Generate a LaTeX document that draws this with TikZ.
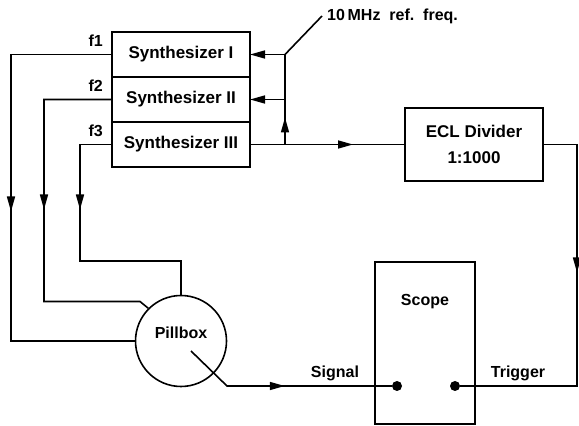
\documentclass[tikz,border=0pt]{standalone}
\usepackage{fontspec}
\setmainfont{Liberation Sans}
\usetikzlibrary{arrows.meta,positioning,decorations.markings}

\begin{document}
\begin{tikzpicture}[
  x=1pt, y=1pt,
  >={Triangle[length=15pt, width=8pt]},
  wire/.style={line width=1.6pt, line join=miter},
  box/.style={draw, line width=1.6pt, outer sep=0pt, minimum width=138pt, minimum height=45pt, align=center, font=\bfseries\fontsize{17}{26}\selectfont},
  lab/.style={inner sep=0pt, font=\bfseries\fontsize{16}{19}\selectfont},
  dot/.style={circle, fill, inner sep=0pt, minimum size=10pt},
  midarr/.style={postaction={decorate, decoration={markings, mark=at position #1 with {\arrow{>}}}}}
]
\useasboundingbox (0,0) rectangle (579,426);
\node[box] (syn1) at (181,371.5) {Synthesizer I};
\node[box, below=0pt of syn1] (syn2) {Synthesizer II};
\node[box, below=0pt of syn2] (syn3) {Synthesizer III};
\node[box, right=155pt of syn3, minimum height=73pt] (ecl) {ECL Divider\\1:1000};
\node[lab, above left=8pt and 9pt of syn1.west] (f1) {f1};
\node[lab, above left=8pt and 9pt of syn2.west] (f2) {f2};
\node[lab, above left=8pt and 9pt of syn3.west] (f3) {f3};
\coordinate[right=35pt of syn1.east] (ref);
\node[lab, anchor=west, inner sep=5pt] (reflab) at (322,410) {10\,MHz~~ref.~~freq.};
\node[circle, draw, line width=1.6pt, minimum size=91pt] (pill) at (181,85) {};
\node[lab, above=2pt of pill.center] (pilllab) {Pillbox};
\coordinate[below right=10pt and 10pt of pill.center] (sigsrc);
\node[draw, line width=1.6pt, minimum width=100pt, minimum height=162pt] (scope) at (425,83) {};
\node[lab, below=33pt of scope.north] (scopelab) {Scope};
\node[dot] (dot1) at (397,40) {};
\node[dot] (dot2) at (455,40) {};
\node[lab] (siglab) at (335,53) {Signal};
\node[lab] (triglab) at (518,53) {Trigger};
\draw[wire] (ref) -- (reflab.west);
\draw[wire, ->] (ref) -- (syn1.east);
\draw[wire, ->] (ref |- syn2.east) -- (syn2.east);
\draw[wire, midarr=27pt] (syn3.east -| ref) -- (ref);
\draw[wire, midarr=103pt] (syn3.east) -- (ecl.west);
\draw[wire, midarr=162pt] (ecl.east) -- ++(34,0) |- (dot2);
\draw[wire, midarr=258pt] (syn1.west) -- ++(-101,0) |- (pill.west);
\draw[wire, midarr=178pt] (syn2.west) -- ++(-68,0) -- ++(0,-202) -- ++(96,0) -- (pill.135);
\draw[wire, midarr=97pt] (syn3.west) -- ++(-32,0) -- ++(0,-116.5) -| (pill.north);
\draw[wire, midarr=108pt] (sigsrc) -- ++(36,-35) -- (dot1);
\end{tikzpicture}
\end{document}
